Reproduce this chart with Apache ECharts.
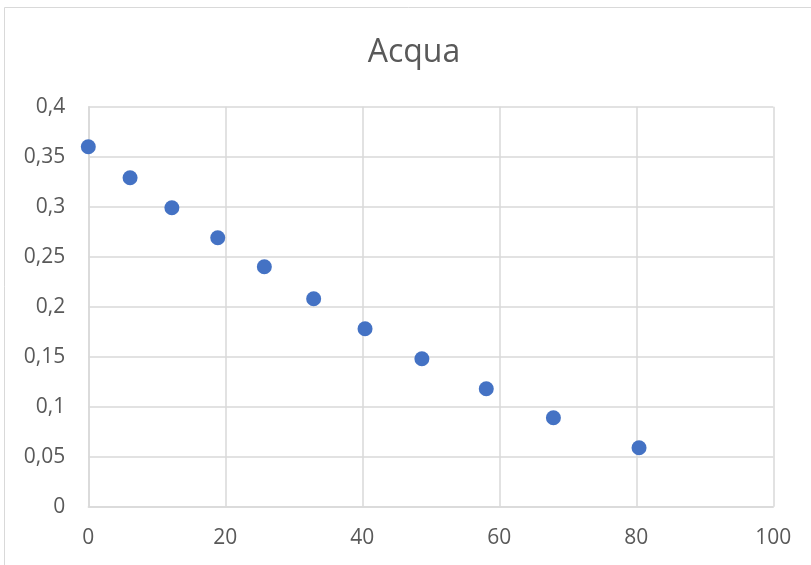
<!DOCTYPE html>
<html>
<head>
<meta charset="utf-8">
<style>
  html, body { margin: 0; padding: 0; background: #ffffff; }
  #chart { width: 811px; height: 565px; }
</style>
<script src="https://cdn.jsdelivr.net/npm/echarts@6/dist/echarts.min.js"></script>
</head>
<body>
<div id="chart"></div>
<script>
// Water series: horizontal value vs. measured value
const chartTitle = 'Acqua';
const xValues = [0, 6.1, 12.2, 18.9, 25.7, 32.9, 40.4, 48.7, 58.1, 67.9, 80.4];
const yValues = [0.36, 0.329, 0.299, 0.269, 0.24, 0.208, 0.178, 0.148, 0.118, 0.089, 0.059];

const points = xValues.map((x, i) => [x, yValues[i]]);

const textColor = '#595959';
const gridColor = '#d9d9d9';
const fontFamily = '"Open Sans", "Liberation Sans", sans-serif';

const chart = echarts.init(document.getElementById('chart'), null, { renderer: 'canvas' });

chart.setOption({
  animation: false,
  backgroundColor: '#ffffff',
  graphic: [
    {
      type: 'rect',
      shape: { x: 4.5, y: 7.5, width: 900, height: 700 },
      style: { fill: 'none', stroke: gridColor, lineWidth: 1 },
      silent: true,
      z: 0
    },
    {
      type: 'text',
      x: 414,
      y: 53,
      style: {
        text: chartTitle,
        fill: textColor,
        font: '32px ' + fontFamily,
        align: 'center',
        verticalAlign: 'middle'
      },
      silent: true
    }
  ],
  grid: {
    left: 88.3,
    right: 37.7,
    top: 106.7,
    bottom: 58.3,
    containLabel: false
  },
  xAxis: {
    type: 'value',
    min: 0,
    max: 100,
    interval: 20,
    axisLine: { show: true, lineStyle: { color: gridColor, width: 1.5 } },
    axisTick: { show: false },
    splitLine: { show: true, lineStyle: { color: gridColor, width: 1.5 } },
    axisLabel: {
      color: textColor,
      fontSize: 21,
      fontFamily: fontFamily,
      margin: 21,
      showMinLabel: true,
      showMaxLabel: true
    }
  },
  yAxis: {
    type: 'value',
    min: 0,
    max: 0.4,
    interval: 0.05,
    axisLine: { show: true, lineStyle: { color: gridColor, width: 1.5 } },
    axisTick: { show: false },
    splitLine: { show: true, lineStyle: { color: gridColor, width: 1.5 } },
    axisLabel: {
      color: textColor,
      fontSize: 21,
      fontFamily: fontFamily,
      margin: 23,
      formatter: v => String(+v.toFixed(2)).replace('.', ',')
    }
  },
  series: [
    {
      type: 'scatter',
      data: points,
      symbol: 'circle',
      symbolSize: 15,
      itemStyle: { color: '#4472c4', opacity: 1 },
      z: 3
    }
  ]
});
</script>
</body>
</html>
